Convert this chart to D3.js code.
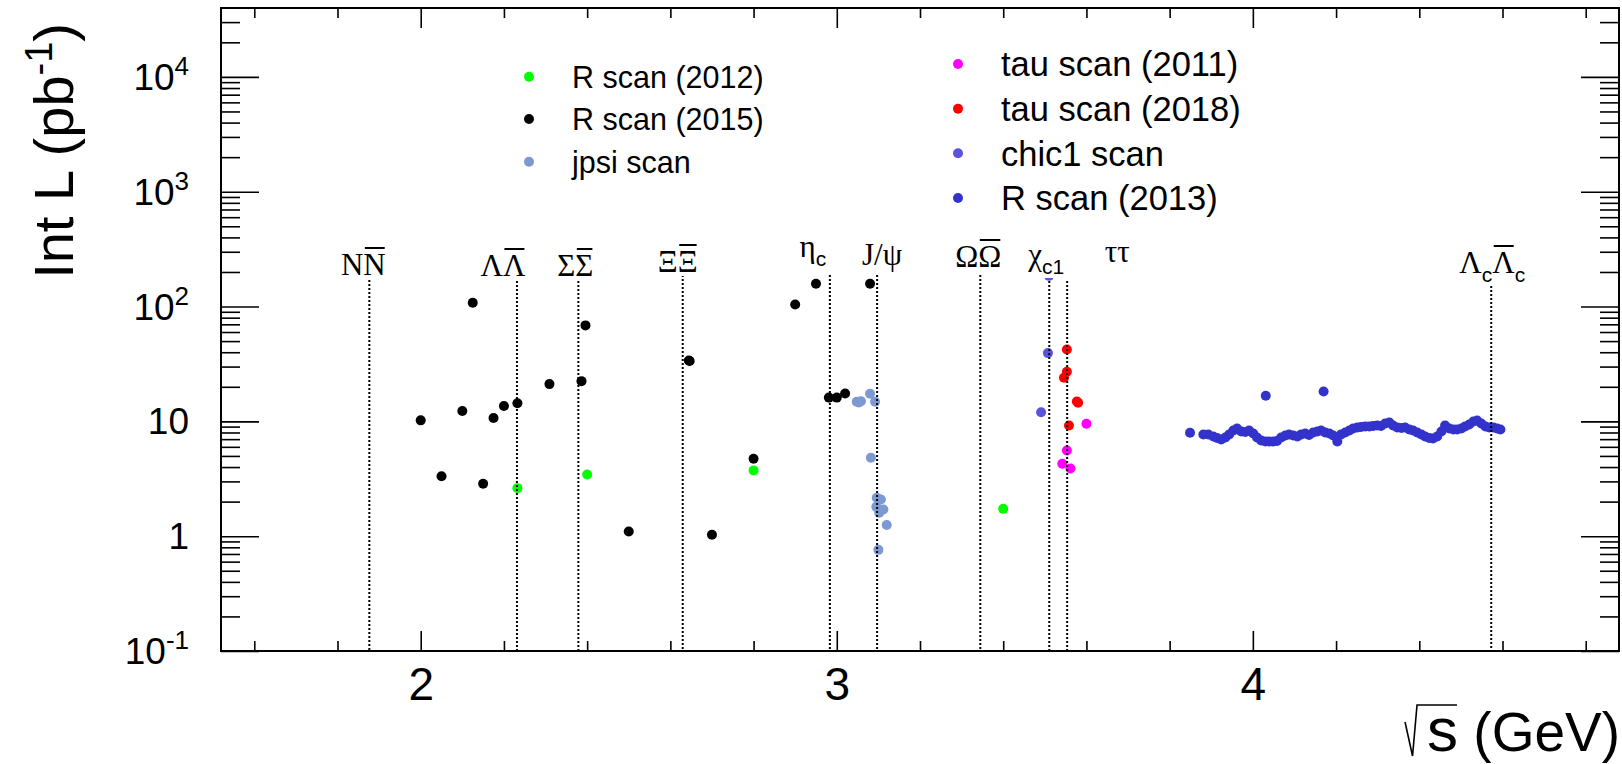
<!DOCTYPE html>
<html>
<head>
<meta charset="utf-8">
<script src="https://cdn.jsdelivr.net/npm/d3@7"></script>
<style>
  body { margin: 0; background: #fff; }
  svg { display: block; }
</style>
</head>
<body>
<div id="chart"></div>
<script>

// ---- data ----
var rscan2012E = [2.2324, 2.4000, 2.8000, 3.4000];
var rscan2012L = [2.62, 3.45, 3.74, 1.73];

var rscan2015E = [2.0000, 2.0500, 2.1000, 2.1250, 2.1500, 2.1750, 2.2000, 2.2324, 2.3094, 2.3864, 2.3960,
                  2.5000, 2.6444, 2.6464, 2.7000, 2.8000, 2.9000, 2.9500, 2.9810, 3.0000, 3.0200, 3.0800];
var rscan2015L = [10.2, 3.33, 12.3, 108, 2.86, 10.7, 13.6, 14.4, 21.1, 22.4, 68.5,
                  1.10, 33.9, 33.5, 1.03, 4.72, 104, 158, 16.1, 16.1, 17.5, 158];

var jpsiE = [3.048, 3.053, 3.058, 3.080, 3.092, 3.082, 3.096, 3.106, 3.095, 3.112, 3.102, 3.120, 3.100];
var jpsiL = [14.8, 14.6, 15.0, 17.4, 14.8, 4.82, 2.16, 2.09, 1.80, 1.71, 1.60, 1.25, 0.76];

var tau2011E = [3.542, 3.553, 3.5615, 3.600];
var tau2011L = [4.27, 5.58, 3.89, 9.53];

var tau2018E = [3.553, 3.553, 3.546, 3.577, 3.580, 3.558];
var tau2018L = [42.3, 27.0, 24.0, 14.9, 14.5, 9.21];

var chic1E = [3.510, 3.5075, 3.491];
var chic1L = [185, 39.3, 12.0];

var rscan2013E = [3.849, 3.881, 3.893, 3.905, 3.914, 3.924, 3.934, 3.943, 3.953, 3.962, 3.972, 3.982, 3.991,
                  4.001, 4.010, 4.020, 4.030, 4.031, 4.039, 4.049, 4.058, 4.068, 4.078, 4.087, 4.097, 4.107,
                  4.116, 4.126, 4.135, 4.145, 4.155, 4.164, 4.170, 4.174, 4.184, 4.193, 4.203, 4.212, 4.222,
                  4.232, 4.241, 4.251, 4.260, 4.270, 4.280, 4.289, 4.299, 4.308, 4.318, 4.328, 4.337, 4.347,
                  4.357, 4.366, 4.376, 4.385, 4.395, 4.405, 4.414, 4.424, 4.433, 4.443, 4.453, 4.462, 4.472,
                  4.482, 4.491, 4.501, 4.510, 4.520, 4.530, 4.539, 4.549, 4.559, 4.568, 4.578, 4.587, 4.595];
var rscan2013L = [7.96, 7.69, 7.69, 7.39, 7.17, 6.96, 7.24, 7.69, 8.33, 8.67, 8.17, 8.09, 8.33,
                  7.85, 7.24, 6.82, 6.68, 16.7, 6.68, 6.68, 6.75, 7.24, 7.54, 7.69, 7.54, 7.39,
                  7.69, 7.85, 7.61, 8.01, 8.17, 8.33, 18.2, 8.01, 7.85, 7.54, 6.68, 7.69, 8.01,
                  8.33, 8.67, 8.85, 8.94, 9.03, 9.03, 9.12, 9.21, 9.12, 9.59, 9.78, 9.21, 8.85,
                  8.76, 8.85, 8.50, 8.33, 8.01, 7.69, 7.39, 7.17, 7.10, 7.39, 8.17, 9.21, 8.67,
                  8.50, 8.50, 8.67, 9.03, 9.40, 9.98, 10.18, 9.59, 9.03, 8.85, 8.85, 8.67, 8.50];

// thresholds (GeV)
var thresholdE = [1.8765, 2.2313, 2.3789, 2.6297, 2.9834, 3.0969, 3.3449, 3.5107, 3.5537, 4.5729];
var thresholdNames = ["NN", "LL", "SS", "XX", "etac", "jpsi", "OO", "chic1", "tautau", "LcLc"];

var yTickExp = [-1, 0, 1, 2, 3, 4];
var xTickMajor = [2, 3, 4];

// ---- look ----
var serif = "'Liberation Serif', 'Times New Roman', serif";
var sans = "'Liberation Sans', Arial, Helvetica, sans-serif";

var series = [
  {name: "R scan (2012)", e: rscan2012E, l: rscan2012L, color: "#00ff00"},
  {name: "R scan (2015)", e: rscan2015E, l: rscan2015L, color: "#000000"},
  {name: "jpsi scan", e: jpsiE, l: jpsiL, color: "#7d99d1"},
  {name: "tau scan (2011)", e: tau2011E, l: tau2011L, color: "#ff00ff"},
  {name: "tau scan (2018)", e: tau2018E, l: tau2018L, color: "#ff0000"},
  {name: "chic1 scan", e: chic1E, l: chic1L, color: "#5954d9"},
  {name: "R scan (2013)", e: rscan2013E, l: rscan2013L, color: "#3333cc"}
];

// legend placement (two boxes, the right one with a slightly larger font)
var legendPos = [
  {mx: 529, ty: 76.7, fs: 30.5}, {mx: 529, ty: 119, fs: 30.5}, {mx: 529, ty: 161.7, fs: 30.5},
  {mx: 958, ty: 64, fs: 34.5}, {mx: 958, ty: 108.7, fs: 34.5}, {mx: 958, ty: 153.3, fs: 34.5}, {mx: 958, ty: 198, fs: 34.5}
];

// threshold label layout: pieces, x offset from line, baseline, top of dotted line
var labelLayout = {
  NN:     {parts: [{t: "N"}, {t: "N", bar: 1}], dx: -6, by: 275, top: 276},
  LL:     {parts: [{t: "Λ"}, {t: "Λ", bar: 1}], dx: -14, by: 276, top: 281},
  SS:     {parts: [{t: "Σ"}, {t: "Σ", bar: 1}], dx: -3, by: 276, top: 281},
  XX:     {parts: [{t: "Ξ"}, {t: "Ξ", bar: 1}], dx: -5, by: 272, top: 275},
  etac:   {parts: [{t: "η"}, {t: "c", sub: 1}], dx: -17, by: 257, top: 275},
  jpsi:   {parts: [{t: "J/ψ"}], dx: 5, by: 265, top: 275},
  OO:     {parts: [{t: "Ω"}, {t: "Ω", bar: 1}], dx: -2, by: 267, top: 275},
  chic1:  {parts: [{t: "χ"}, {t: "c1", sub: 1}], dx: -3, by: 265, top: 281},
  tautau: {parts: [{t: "ττ"}], dx: 50, by: 262, top: 281},
  LcLc:   {parts: [{t: "Λ"}, {t: "c", sub: 1}, {t: "Λ", bar: 1}, {t: "c", sub: 1}], dx: 1, by: 273, top: 282}
};

var W = 1622, H = 764;
var svg = d3.select("#chart").append("svg")
  .attr("width", W).attr("height", H);

var x = d3.scaleLinear().domain([1.52, 4.88]).range([221, 1619]);
var y = d3.scaleLog().domain([0.1, Math.pow(10, 4.6)]).range([651, 8]);

var x0 = x.range()[0], x1 = x.range()[1], y0 = y.range()[0], y1 = y.range()[1];

// ---- points ----
var gPts = svg.append("g");
series.forEach(function (s) {
  gPts.selectAll(null)
    .data(s.e.map(function (e, i) { return {e: e, l: s.l[i]}; }))
    .enter().append("circle")
    .attr("cx", function (d) { return x(d.e); })
    .attr("cy", function (d) { return y(d.l); })
    .attr("r", 5)
    .attr("fill", s.color);
});

// ---- threshold lines ----
var gLines = svg.append("g");
thresholdE.forEach(function (e, i) {
  var lay = labelLayout[thresholdNames[i]];
  gLines.append("line")
    .attr("x1", x(e)).attr("x2", x(e))
    .attr("y1", lay.top).attr("y2", y0)
    .attr("stroke", "#000").attr("stroke-width", 2)
    .attr("stroke-dasharray", "2,2");
});

// ---- threshold labels ----
var gLabBg = svg.append("g");
var gLab = svg.append("g");
thresholdE.forEach(function (e, i) {
  var lay = labelLayout[thresholdNames[i]];
  var t = gLab.append("text")
    .attr("x", x(e) + lay.dx).attr("y", lay.by)
    .attr("text-anchor", "middle")
    .style("font-family", serif).style("font-size", "31px");
  var idx = 0, shift = 0, bars = [], subShift = 0;
  lay.parts.forEach(function (p) {
    var ts = t.append("tspan").text(p.t);
    var dy;
    if (p.sub) {
      ts.style("font-family", sans).style("font-size", "21px");
      dy = 9 - shift; shift = 9; subShift = 9;
    } else {
      dy = -shift; shift = 0;
    }
    if (dy) ts.attr("dy", dy);
    if (p.bar) bars.push(idx);
    idx += p.t.length;
  });
  bars.forEach(function (ci) {
    var ext = t.node().getExtentOfChar(ci);
    gLab.append("line")
      .attr("x1", ext.x + 1.5).attr("x2", ext.x + ext.width - 1)
      .attr("y1", lay.by - 27).attr("y2", lay.by - 27)
      .attr("stroke", "#000").attr("stroke-width", 2);
  });
  var bb = t.node().getBBox();
  gLabBg.append("rect")
    .attr("x", bb.x).attr("width", bb.width)
    .attr("y", lay.by - 30).attr("height", 30 + subShift + 4)
    .attr("fill", "#fff");
});

// ---- frame and ticks ----
var gAx = svg.append("g");

function styleAxis(g) {
  g.select(".domain").remove();
  g.selectAll(".tick line").attr("stroke", "#000").attr("stroke-width", 1.6);
}

var xMinor = d3.range(1.6, 4.81, 0.2).filter(function (v) { return Math.abs(v - Math.round(v)) > 1e-6; });
var yMinor = [];
yTickExp.concat([5]).forEach(function (k) {
  for (var m = 2; m <= 9; m++) {
    var v = m * Math.pow(10, k - 1);
    if (v > y.domain()[0] && v < y.domain()[1]) yMinor.push(v);
  }
});
var yMajor = yTickExp.map(function (k) { return Math.pow(10, k); });

// bottom
gAx.append("g").attr("transform", "translate(0," + y0 + ")")
  .call(d3.axisBottom(x).tickValues(xTickMajor).tickSizeInner(-20).tickSizeOuter(0)
    .tickPadding(16).tickFormat(d3.format("d")))
  .call(styleAxis)
  .selectAll("text").style("font-family", sans).style("font-size", "46px").attr("fill", "#000");
gAx.append("g").attr("transform", "translate(0," + y0 + ")")
  .call(d3.axisBottom(x).tickValues(xMinor).tickSizeInner(-10).tickSizeOuter(0).tickFormat(""))
  .call(styleAxis);
// top
gAx.append("g").attr("transform", "translate(0," + y1 + ")")
  .call(d3.axisTop(x).tickValues(xTickMajor).tickSizeInner(-20).tickSizeOuter(0).tickFormat(""))
  .call(styleAxis);
gAx.append("g").attr("transform", "translate(0," + y1 + ")")
  .call(d3.axisTop(x).tickValues(xMinor).tickSizeInner(-10).tickSizeOuter(0).tickFormat(""))
  .call(styleAxis);
// left
gAx.append("g").attr("transform", "translate(" + x0 + ",0)")
  .call(d3.axisLeft(y).tickValues(yMajor).tickSizeInner(-38).tickSizeOuter(0).tickFormat(""))
  .call(styleAxis);
gAx.append("g").attr("transform", "translate(" + x0 + ",0)")
  .call(d3.axisLeft(y).tickValues(yMinor).tickSizeInner(-19).tickSizeOuter(0).tickFormat(""))
  .call(styleAxis);
// right
gAx.append("g").attr("transform", "translate(" + x1 + ",0)")
  .call(d3.axisRight(y).tickValues(yMajor).tickSizeInner(-38).tickSizeOuter(0).tickFormat(""))
  .call(styleAxis);
gAx.append("g").attr("transform", "translate(" + x1 + ",0)")
  .call(d3.axisRight(y).tickValues(yMinor).tickSizeInner(-19).tickSizeOuter(0).tickFormat(""))
  .call(styleAxis);

gAx.append("rect")
  .attr("x", x0).attr("y", y1)
  .attr("width", x1 - x0).attr("height", y0 - y1)
  .attr("fill", "none").attr("stroke", "#000").attr("stroke-width", 2);

// y tick labels (powers of ten)
yTickExp.forEach(function (k) {
  var t = gAx.append("text")
    .attr("x", 189).attr("y", y(Math.pow(10, k)) + 13)
    .attr("text-anchor", "end")
    .style("font-family", sans).style("font-size", "37px");
  if (k === 0) t.text("1");
  else if (k === 1) t.text("10");
  else {
    t.append("tspan").text("10");
    t.append("tspan").attr("dy", -15).style("font-size", "26px").text(k);
  }
});

// axis titles
var yt = svg.append("text")
  .attr("transform", "translate(73,23) rotate(-90)")
  .attr("text-anchor", "end")
  .style("font-family", sans).style("font-size", "56px");
yt.append("tspan").text("Int L (pb");
yt.append("tspan").attr("dy", -21).style("font-size", "38px").text("-1");
yt.append("tspan").attr("dy", 21).text(")");

var xt = svg.append("text")
  .attr("x", 1620).attr("y", 751)
  .attr("text-anchor", "end")
  .style("font-family", sans).style("font-size", "55px");
xt.append("tspan").style("font-size", "62px").text("s");
xt.append("tspan").text(" (GeV)");
var sExt = xt.node().getExtentOfChar(0);
var sx = sExt.x + 2;
svg.append("path")
  .attr("d", "M" + (sx - 24) + ",722 L" + (sx - 16.5) + ",756 L" + (sx - 12) + ",705 L" + (sx + 28) + ",705")
  .attr("fill", "none").attr("stroke", "#000").attr("stroke-width", 1.6);

// ---- legend ----
var gLeg = svg.append("g");
series.forEach(function (s, i) {
  var p = legendPos[i];
  gLeg.append("circle").attr("cx", p.mx).attr("cy", p.ty).attr("r", 5).attr("fill", s.color);
  gLeg.append("text")
    .attr("x", p.mx + 43).attr("y", p.ty + p.fs * 0.36)
    .style("font-family", sans).style("font-size", p.fs + "px")
    .text(s.name);
});

</script>
</body>
</html>
